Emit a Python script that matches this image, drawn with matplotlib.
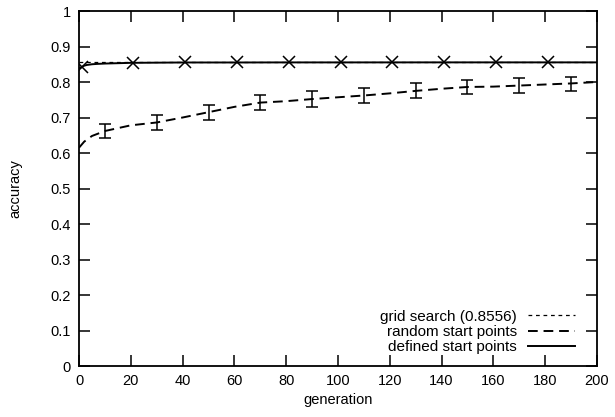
import matplotlib

matplotlib.use("Agg")
import matplotlib.pyplot as plt
from matplotlib.lines import Line2D

plt.rcParams["font.family"] = ["Liberation Sans", "DejaVu Sans"]

GRID_SEARCH = 0.8556

# defined start points (solid curve + x markers)
defined_gen = [0, 1, 2, 3, 5, 7, 10, 15, 20, 30, 40, 60, 80, 100, 140, 200]
defined_acc = [0.838, 0.842, 0.846, 0.848, 0.850, 0.851, 0.852, 0.853, 0.854, 0.8545,
               0.855, 0.855, 0.8552, 0.8552, 0.8553, 0.8553]
marker_gen = [1, 21, 41, 61, 81, 101, 121, 141, 161, 181]
marker_acc = [0.842, 0.854, 0.855, 0.855, 0.8552, 0.8552, 0.8552, 0.8553, 0.8553, 0.8553]

# random start points (dashed curve + error bars)
random_gen = [0, 2, 5, 10, 20, 30, 40, 50, 60, 70, 80, 90, 100, 110, 120, 130,
              140, 150, 160, 170, 180, 190, 200]
random_acc = [0.615, 0.632, 0.648, 0.662, 0.678, 0.686, 0.700, 0.715, 0.730, 0.742,
              0.746, 0.752, 0.757, 0.762, 0.768, 0.775, 0.781, 0.786, 0.787, 0.790,
              0.793, 0.796, 0.800]
err_gen = [10, 30, 50, 70, 90, 110, 130, 150, 170, 190]
err_acc = [0.662, 0.686, 0.715, 0.742, 0.752, 0.762, 0.775, 0.786, 0.790, 0.795]
err_size = [0.020, 0.021, 0.021, 0.022, 0.022, 0.021, 0.021, 0.020, 0.020, 0.019]

fig = plt.figure(figsize=(6.15, 4.17), dpi=100)
ax = fig.add_axes([0.1285, 0.1223, 0.8422, 0.8513])

ax.axhline(GRID_SEARCH, color="black", linewidth=0.9, dashes=(3, 3))
ax.plot(random_gen, random_acc, color="black", linewidth=1.4, dashes=(5, 3))
ax.errorbar(err_gen, err_acc, yerr=err_size, fmt="none", ecolor="black",
            elinewidth=1.1, capsize=4, capthick=1.1)
ax.plot(defined_gen, defined_acc, color="black", linewidth=1.4)
ax.plot(marker_gen, marker_acc, linestyle="none", marker="x", color="black",
        markersize=9, markeredgewidth=1.1)

ax.set_xlim(0, 200)
ax.set_ylim(0, 1)
ax.set_xticks(range(0, 201, 20))
ax.set_yticks([i / 10 for i in range(11)])
ax.set_yticklabels(["0", "0.1", "0.2", "0.3", "0.4", "0.5", "0.6", "0.7", "0.8", "0.9", "1"])
ax.tick_params(direction="in", length=8, width=1.1, top=True, right=True, labelsize=10.5,
               pad=6)
for spine in ax.spines.values():
    spine.set_linewidth(1.3)
ax.set_xlabel("generation", fontsize=10.5, labelpad=3)
ax.set_ylabel("accuracy", fontsize=10.5, labelpad=20)

handles = [
    Line2D([], [], color="black", linewidth=0.9, dashes=(3, 3)),
    Line2D([], [], color="black", linewidth=1.4, dashes=(5, 3)),
    Line2D([], [], color="black", linewidth=1.4),
]
labels = ["grid search (0.8556)", "random start points", "defined start points"]
ax.legend(handles, labels, loc="lower right", frameon=False, markerfirst=False,
          fontsize=11, handlelength=3.1, handletextpad=0.7, labelspacing=0.07,
          borderaxespad=0, borderpad=0, bbox_to_anchor=(0.9575, 0.034))

fig.savefig("out.png", dpi=100)
